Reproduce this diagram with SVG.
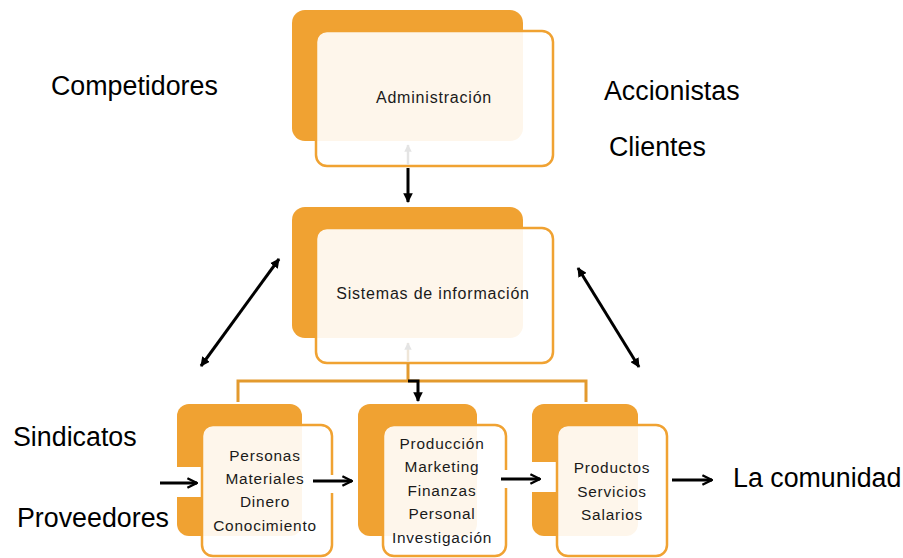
<svg xmlns="http://www.w3.org/2000/svg" width="903" height="558" viewBox="0 0 903 558">
<style>
.back{fill:#F0A232}
.card{fill:#FFFFFF;fill-opacity:0.9;stroke:#F0A232;stroke-width:2.5}
.lbl{font-family:"Liberation Sans",Arial,sans-serif;font-size:26.8px;fill:#000}
.nt{font-family:"Liberation Sans",Arial,sans-serif;font-size:16px;fill:#1a1a1a;text-anchor:middle;letter-spacing:0.8px}
.bt{font-family:"Liberation Sans",Arial,sans-serif;font-size:15.4px;fill:#1a1a1a;text-anchor:middle;letter-spacing:0.8px}
.ln{stroke:#000;stroke-width:3;fill:none}
.org{stroke:#E39A2E;stroke-width:3;fill:none}
.gap{fill:#FFFFFF}
</style>
<defs>
<marker id="tri" viewBox="0 0 10 10" refX="9" refY="5" markerWidth="3.2" markerHeight="3.2" orient="auto-start-reverse">
<path d="M0,0 L10,5 L0,10 Z" fill="#000"/>
</marker>
<marker id="chev" viewBox="0 0 10 10" refX="9" refY="5" markerWidth="4" markerHeight="4" orient="auto">
<path d="M1,1 L9,5 L1,9" fill="none" stroke="#000" stroke-width="2"/>
</marker>
<marker id="faint" viewBox="0 0 10 10" refX="9" refY="5" markerWidth="3" markerHeight="3" orient="auto">
<path d="M0,0 L10,5 L0,10 Z" fill="#E4E4E4"/>
</marker>
</defs>

<g id="admin">
<rect class="back" x="292" y="10" width="231" height="131" rx="13"/>
<rect class="card" x="316" y="31" width="237" height="135" rx="11"/>
<text class="nt" x="434" y="103">Administración</text>
</g>

<g id="sistemas">
<rect class="back" x="292" y="207" width="231" height="131" rx="13"/>
<rect class="card" x="316" y="228" width="237" height="135" rx="11"/>
<text class="nt" x="433" y="299">Sistemas de información</text>
</g>

<g id="insumos">
<rect class="back" x="177" y="404" width="125" height="132" rx="12"/>
<rect class="gap" x="176" y="467" width="26" height="30"/>
<rect class="card" x="202" y="425" width="130" height="131" rx="11"/>
<rect class="gap" x="328" y="475" width="8" height="18"/>
<text class="bt" x="265" y="461">Personas</text>
<text class="bt" x="265" y="484">Materiales</text>
<text class="bt" x="265" y="507">Dinero</text>
<text class="bt" x="265" y="531">Conocimiento</text>
</g>

<g id="procesos">
<rect class="back" x="358" y="404" width="119" height="132" rx="12"/>
<rect class="card" x="383" y="425" width="123" height="131" rx="11"/>
<rect class="gap" x="502" y="470" width="8" height="18"/>
<text class="bt" x="442" y="449">Producción</text>
<text class="bt" x="442" y="472">Marketing</text>
<text class="bt" x="442" y="496">Finanzas</text>
<text class="bt" x="442" y="519">Personal</text>
<text class="bt" x="442" y="543">Investigación</text>
</g>

<g id="productos">
<rect class="back" x="532" y="404" width="106" height="132" rx="12"/>
<rect class="gap" x="531" y="462" width="26" height="30"/>
<rect class="card" x="557" y="425" width="110" height="131" rx="11"/>
<text class="bt" x="612" y="473">Productos</text>
<text class="bt" x="612" y="497">Servicios</text>
<text class="bt" x="612" y="520">Salarios</text>
</g>

<g id="labels">
<text class="lbl" x="51" y="95">Competidores</text>
<text class="lbl" x="604" y="100">Accionistas</text>
<text class="lbl" x="609" y="156">Clientes</text>
<text class="lbl" x="13" y="446">Sindicatos</text>
<text class="lbl" x="17" y="527">Proveedores</text>
<text class="lbl" x="733" y="487">La comunidad</text>
</g>

<g id="connectors">
<line x1="408" y1="165" x2="408" y2="145" stroke="#E4E4E4" stroke-width="2.5" marker-end="url(#faint)"/>
<line x1="408" y1="362" x2="408" y2="343" stroke="#EFE6D8" stroke-width="2.5" marker-end="url(#faint)"/>
<line class="ln" x1="408" y1="168" x2="408" y2="202" stroke-width="2.5" marker-end="url(#tri)"/>
<path class="org" d="M408,363 V381"/>
<path class="org" d="M238,402 V381 H586 V402"/>
<path class="ln" d="M408,381 H418 V401" stroke-width="2.5" marker-end="url(#tri)"/>
<line class="ln" x1="201" y1="366" x2="279" y2="259" stroke-width="2.5" marker-start="url(#tri)" marker-end="url(#tri)"/>
<line class="ln" x1="578" y1="268" x2="639" y2="367" stroke-width="2.5" marker-start="url(#tri)" marker-end="url(#tri)"/>
<line class="ln" x1="160" y1="483" x2="197" y2="483" marker-end="url(#chev)"/>
<line class="ln" x1="313" y1="481" x2="352" y2="481" marker-end="url(#chev)"/>
<line class="ln" x1="501" y1="479" x2="540" y2="479" marker-end="url(#chev)"/>
<line class="ln" x1="672" y1="480" x2="712" y2="480" marker-end="url(#chev)"/>
</g>
</svg>
